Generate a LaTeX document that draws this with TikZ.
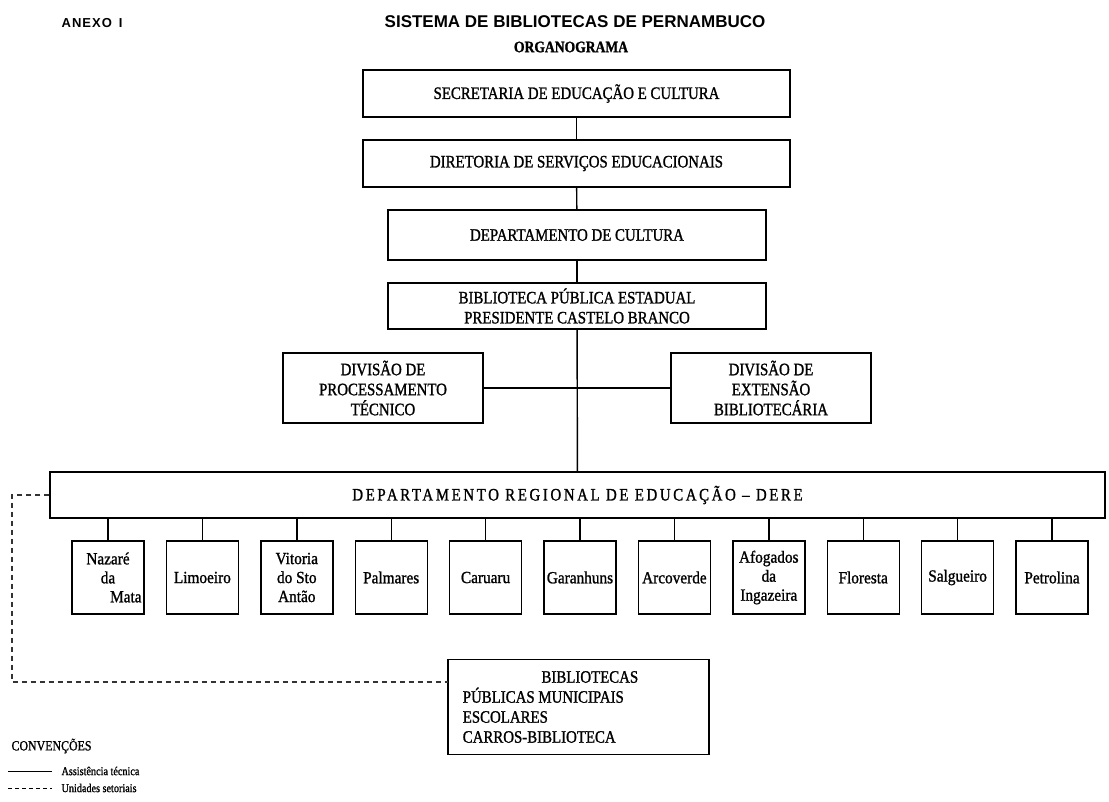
\documentclass[tikz,border=0pt]{standalone}
\usepackage{fontspec}
\setmainfont{Liberation Serif}
\setsansfont{Liberation Sans}
\newfontfamily\estreita{Liberation Serif}[FakeStretch=0.85,FakeBold=1.2]
\newfontfamily\regfont{Liberation Serif}[FakeStretch=0.9,FakeBold=1.2]
\usepackage{tikz}
\usetikzlibrary{shapes,arrows}

\tikzset{
	caixa/.style={draw,line width=1.4pt,inner sep=2pt,align=center,font=\estreita\fontsize{17.5}{20}\selectfont},
	regional/.style={caixa,inner sep=1pt,minimum width=72pt,minimum height=73pt,font=\regfont\fontsize{17}{19}\selectfont},
	tecnica/.style={line width=1.4pt},
	setorial/.style={line width=1.3pt,black!80,dash pattern=on 5pt off 4pt}
}

\begin{document}
\begin{tikzpicture}[x=1pt,y=-1pt]
	\useasboundingbox[fill=white] (0,0) rectangle (1109,801);
	% cabecalho
	\node[font=\sffamily\bfseries\fontsize{13}{15}\selectfont\addfontfeature{LetterSpace=8}] (anexo) at (92,23) {ANEXO \,I};
	\node[font=\sffamily\bfseries\fontsize{17}{20}\selectfont] (titulo) at (575,22) {SISTEMA DE BIBLIOTECAS DE PERNAMBUCO};
	\node[font=\estreita\bfseries\fontsize{16}{18}\selectfont] (organo) at (571,47) {ORGANOGRAMA};

	% orgaos centrais
	\node[caixa,minimum width=427pt,minimum height=47pt] (sec) at (576.5,93.5) {SECRETARIA DE EDUCAÇÃO E CULTURA};
	\node[caixa,minimum width=427pt,minimum height=47pt] (dir) at (576.5,163.5) {DIRETORIA DE SERVIÇOS EDUCACIONAIS};
	\node[caixa,minimum width=378pt,minimum height=50pt] (dcult) at (577,235) {DEPARTAMENTO DE CULTURA};
	\node[caixa,minimum width=378pt,minimum height=46pt] (bpe) at (577,306) {BIBLIOTECA PÚBLICA ESTADUAL\\PRESIDENTE CASTELO BRANCO};
	\node[caixa,minimum width=200pt,minimum height=70pt] (dpt) at (383,388) {DIVISÃO DE\\PROCESSAMENTO\\TÉCNICO};
	\node[caixa,minimum width=200pt,minimum height=70pt] (deb) at (771,388) {DIVISÃO DE\\EXTENSÃO\\BIBLIOTECÁRIA};
	\node[caixa,minimum width=1055pt,minimum height=46pt,font=\estreita\fontsize{17.5}{20}\selectfont\addfontfeature{LetterSpace=15}] (dere) at (577.5,495) {DEPARTAMENTO REGIONAL DE EDUCAÇÃO – DERE};

	% DEREs
	\foreach \nome [count=\i from 0] in {{Nazaré\\da\\\hspace*{2.1em}Mata},Limoeiro,{Vitoria\\do Sto\\Antão},Palmares,Caruaru,Garanhuns,Arcoverde,{Afogados\\da\\Ingazeira},Floresta,Salgueiro,Petrolina}
		\node[regional] (r\i) at (108+94.4*\i,577.5) {\nome};

	\node[caixa,minimum width=261pt,minimum height=95pt,align=left] (bib) at (578.5,707) {\hspace*{4.5em}BIBLIOTECAS\hspace*{3.2em}\\PÚBLICAS MUNICIPAIS\\ESCOLARES\\CARROS-BIBLIOTECA};

	% ligacoes
	\path[tecnica]
	(sec) edge (dir)
	(dir) edge (dcult)
	(dcult) edge (bpe)
	(bpe) edge (dere)
	(dpt) edge (deb);
	\foreach \i in {0,...,10}
		\draw[tecnica] (r\i.north) -- (r\i.north |- dere.south);

	\coordinate (esq) at (12,495);
	\coordinate (bibin) at (448,682);
	\draw[setorial] (dere.west) -- (esq) |- (bibin);

	% convencoes
	\node[anchor=west,font=\estreita\fontsize{14}{16}\selectfont] (conv) at (8,746) {CONVENÇÕES};
	\coordinate (tca) at (8,771);
	\coordinate (tcb) at (52,771);
	\coordinate (sta) at (8,788);
	\coordinate (stb) at (52,788);
	\draw[line width=1pt] (tca) -- (tcb);
	\draw[line width=1pt,dash pattern=on 4pt off 3pt] (sta) -- (stb);
	\node[anchor=west,font=\estreita\fontsize{12}{14}\selectfont] (ltec) at (58,771) {Assistência técnica};
	\node[anchor=west,font=\estreita\fontsize{12}{14}\selectfont] (lset) at (58,788) {Unidades setoriais};
\end{tikzpicture}
\end{document}
